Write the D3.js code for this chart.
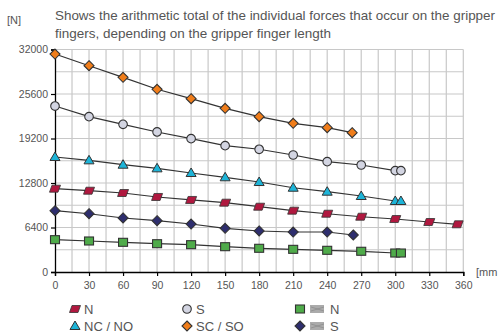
<!DOCTYPE html>
<html><head><meta charset="utf-8">
<script src="https://cdn.jsdelivr.net/npm/d3@7"></script>
<style>body{margin:0;background:#fff}svg{display:block;font-family:Arial,"Liberation Sans",sans-serif}</style>
</head><body><svg id="c" width="499" height="336"></svg>
<script>
const xTicks = [0,30,60,90,120,150,180,210,240,270,300,330,360];
const yTicks = [0,6400,12800,19200,25600,32000];
const titleLines = ["Shows the arithmetic total of the individual forces that occur on the gripper","fingers, depending on the gripper finger length"];

const xsSCSO = [0,30,60,90,120,150,180,210,240,262];
const vSCSO  = [31350,29670,28000,26280,24930,23540,22340,21380,20760,20040];
const xsS    = [0,30,60,90,120,150,180,210,240,270,300,305];
const vS     = [23870,22340,21240,20140,19180,18170,17650,16830,15870,15390,14570,14570];
const xsNCNO = [0,30,60,90,120,150,180,210,240,270,300,305];
const vNCNO  = [16540,16060,15430,14910,14240,13620,12940,12120,11550,10930,10210,10210];
const xsN    = [0,30,60,90,120,150,180,210,240,270,300,330,355];
const vN     = [11980,11690,11360,10790,10360,9970,9390,8820,8380,7950,7620,7190,6860];
const xsSpS  = [0,30,60,90,120,150,180,210,240,263];
const vSpS   = [8820,8380,7770,7380,6900,6280,5900,5750,5750,5320];
const xsSpN  = [0,30,60,90,120,150,180,210,240,270,300,305];
const vSpN   = [4650,4460,4270,4070,3930,3640,3410,3260,3120,2980,2730,2730];

const series = [
  {name:"SC / SO", xs:xsSCSO, v:vSCSO, shape:"diamond", fill:"#f07d1a"},
  {name:"S", xs:xsS, v:vS, shape:"circle", fill:"#d3d5e2"},
  {name:"NC / NO", xs:xsNCNO, v:vNCNO, shape:"triangle", fill:"#1db4d8"},
  {name:"N", xs:xsN, v:vN, shape:"para", fill:"#b0183f"},
  {name:"S", xs:xsSpS, v:vSpS, shape:"diamond", fill:"#2e2e6e", spring:true},
  {name:"N", xs:xsSpN, v:vSpN, shape:"square", fill:"#4fab4a", spring:true}
];

const svg = d3.select("#c");
const x = d3.scaleLinear().domain([0,360]).range([55,463.3]);
const y = d3.scaleLinear().domain([0,32000]).range([272,49.5]);

// grid
const g = svg.append("g");
g.selectAll(".vg").data(d3.range(15,361,15)).enter().append("line")
  .attr("x1",d=>x(d)).attr("x2",d=>x(d)).attr("y1",y(0)).attr("y2",y(32000))
  .attr("stroke","#c8c8c8").attr("stroke-width",1.2);
g.selectAll(".hg").data(d3.range(3200,32001,3200)).enter().append("line")
  .attr("x1",x(0)).attr("x2",x(360)).attr("y1",d=>y(d)).attr("y2",d=>y(d))
  .attr("stroke","#c8c8c8").attr("stroke-width",1.2);

// axes
const xa = svg.append("g").attr("transform",`translate(0,${y(0)})`)
  .call(d3.axisBottom(x).tickValues(xTicks).tickSize(4).tickPadding(6).tickFormat(d3.format("d")));
const ya = svg.append("g").attr("transform",`translate(${x(0)},0)`)
  .call(d3.axisLeft(y).tickValues(yTicks).tickSize(4).tickPadding(3).tickFormat(d3.format("d")));
[xa,ya].forEach(a=>{
  a.select(".domain").attr("stroke","#000").attr("stroke-width",1.3);
  a.selectAll(".tick line").attr("stroke","#000").attr("stroke-width",1.2);
  a.selectAll("text").attr("fill","#555").style("font-size","10.5px").style("font-family","Arial,'Liberation Sans',sans-serif");
});

// titles
svg.append("text").attr("x",7).attr("y",24).text("[N]").attr("fill","#555").style("font-size","11px");
svg.append("text").attr("x",476).attr("y",276).text("[mm").attr("fill","#555").style("font-size","11px");
const titleW = [440, 276];
titleLines.forEach((t,i)=>svg.append("text").attr("x",55).attr("y",20+i*17.5).text(t)
  .attr("textLength",titleW[i]).attr("lengthAdjust","spacingAndGlyphs")
  .attr("fill","#555").style("font-size","13.5px"));

function marker(sel, shape, fill){
  const st = "#333";
  if(shape==="circle") sel.append("circle").attr("r",4.3).attr("fill",fill).attr("stroke",st).attr("stroke-width",1.1);
  else if(shape==="diamond") sel.append("path").attr("d","M0,-5L5,0L0,5L-5,0Z").attr("fill",fill).attr("stroke",st).attr("stroke-width",1.1);
  else if(shape==="triangle") sel.append("path").attr("d","M0,-5L5,3.5L-5,3.5Z").attr("fill",fill).attr("stroke",st).attr("stroke-width",1);
  else if(shape==="square") sel.append("rect").attr("x",-4.5).attr("y",-4).attr("width",9).attr("height",8).attr("fill",fill).attr("stroke",st).attr("stroke-width",1.1);
  else if(shape==="para") sel.append("path").attr("d","M-3,-3.5L5.5,-3.5L3,3.5L-5.5,3.5Z").attr("fill",fill).attr("stroke",st).attr("stroke-width",0.8);
}

const line = d3.line().x(d=>x(d[0])).y(d=>y(d[1]));
series.forEach(s=>{
  const pts = s.xs.map((xv,i)=>[xv,s.v[i]]);
  svg.append("path").attr("d",line(pts)).attr("fill","none").attr("stroke","#333").attr("stroke-width",1.2);
  pts.forEach(p=>{
    const m = svg.append("g").attr("transform",`translate(${x(p[0])},${y(p[1])})`);
    marker(m, s.shape, s.fill);
  });
});

// legend
const legend = [
  {s:series[3], lx:75, ly:309},
  {s:series[2], lx:75, ly:326},
  {s:series[1], lx:187, ly:309},
  {s:series[0], lx:187, ly:326},
  {s:series[5], lx:300, ly:309},
  {s:series[4], lx:300, ly:326}
];
legend.forEach(l=>{
  const m = svg.append("g").attr("transform",`translate(${l.lx},${l.ly})`);
  marker(m, l.s.shape, l.s.fill);
  let tx = l.lx+9;
  if(l.s.spring){
    const sp = svg.append("g").attr("transform",`translate(${l.lx+11},${l.ly})`);
    for(let k=0;k<7;k++){
      sp.append("line").attr("x1",k*2).attr("x2",k*2).attr("y1",-4).attr("y2",4).attr("stroke","#666").attr("stroke-width",1.1);
    }
    sp.append("path").attr("d","M0,-2L13,2M0,2L13,-2").attr("stroke","#888").attr("stroke-width",0.7);
    tx = l.lx+30;
  }
  svg.append("text").attr("x",tx).attr("y",l.ly+5).text(l.s.name).attr("fill","#555").style("font-size","13px");
});
</script></body></html>
